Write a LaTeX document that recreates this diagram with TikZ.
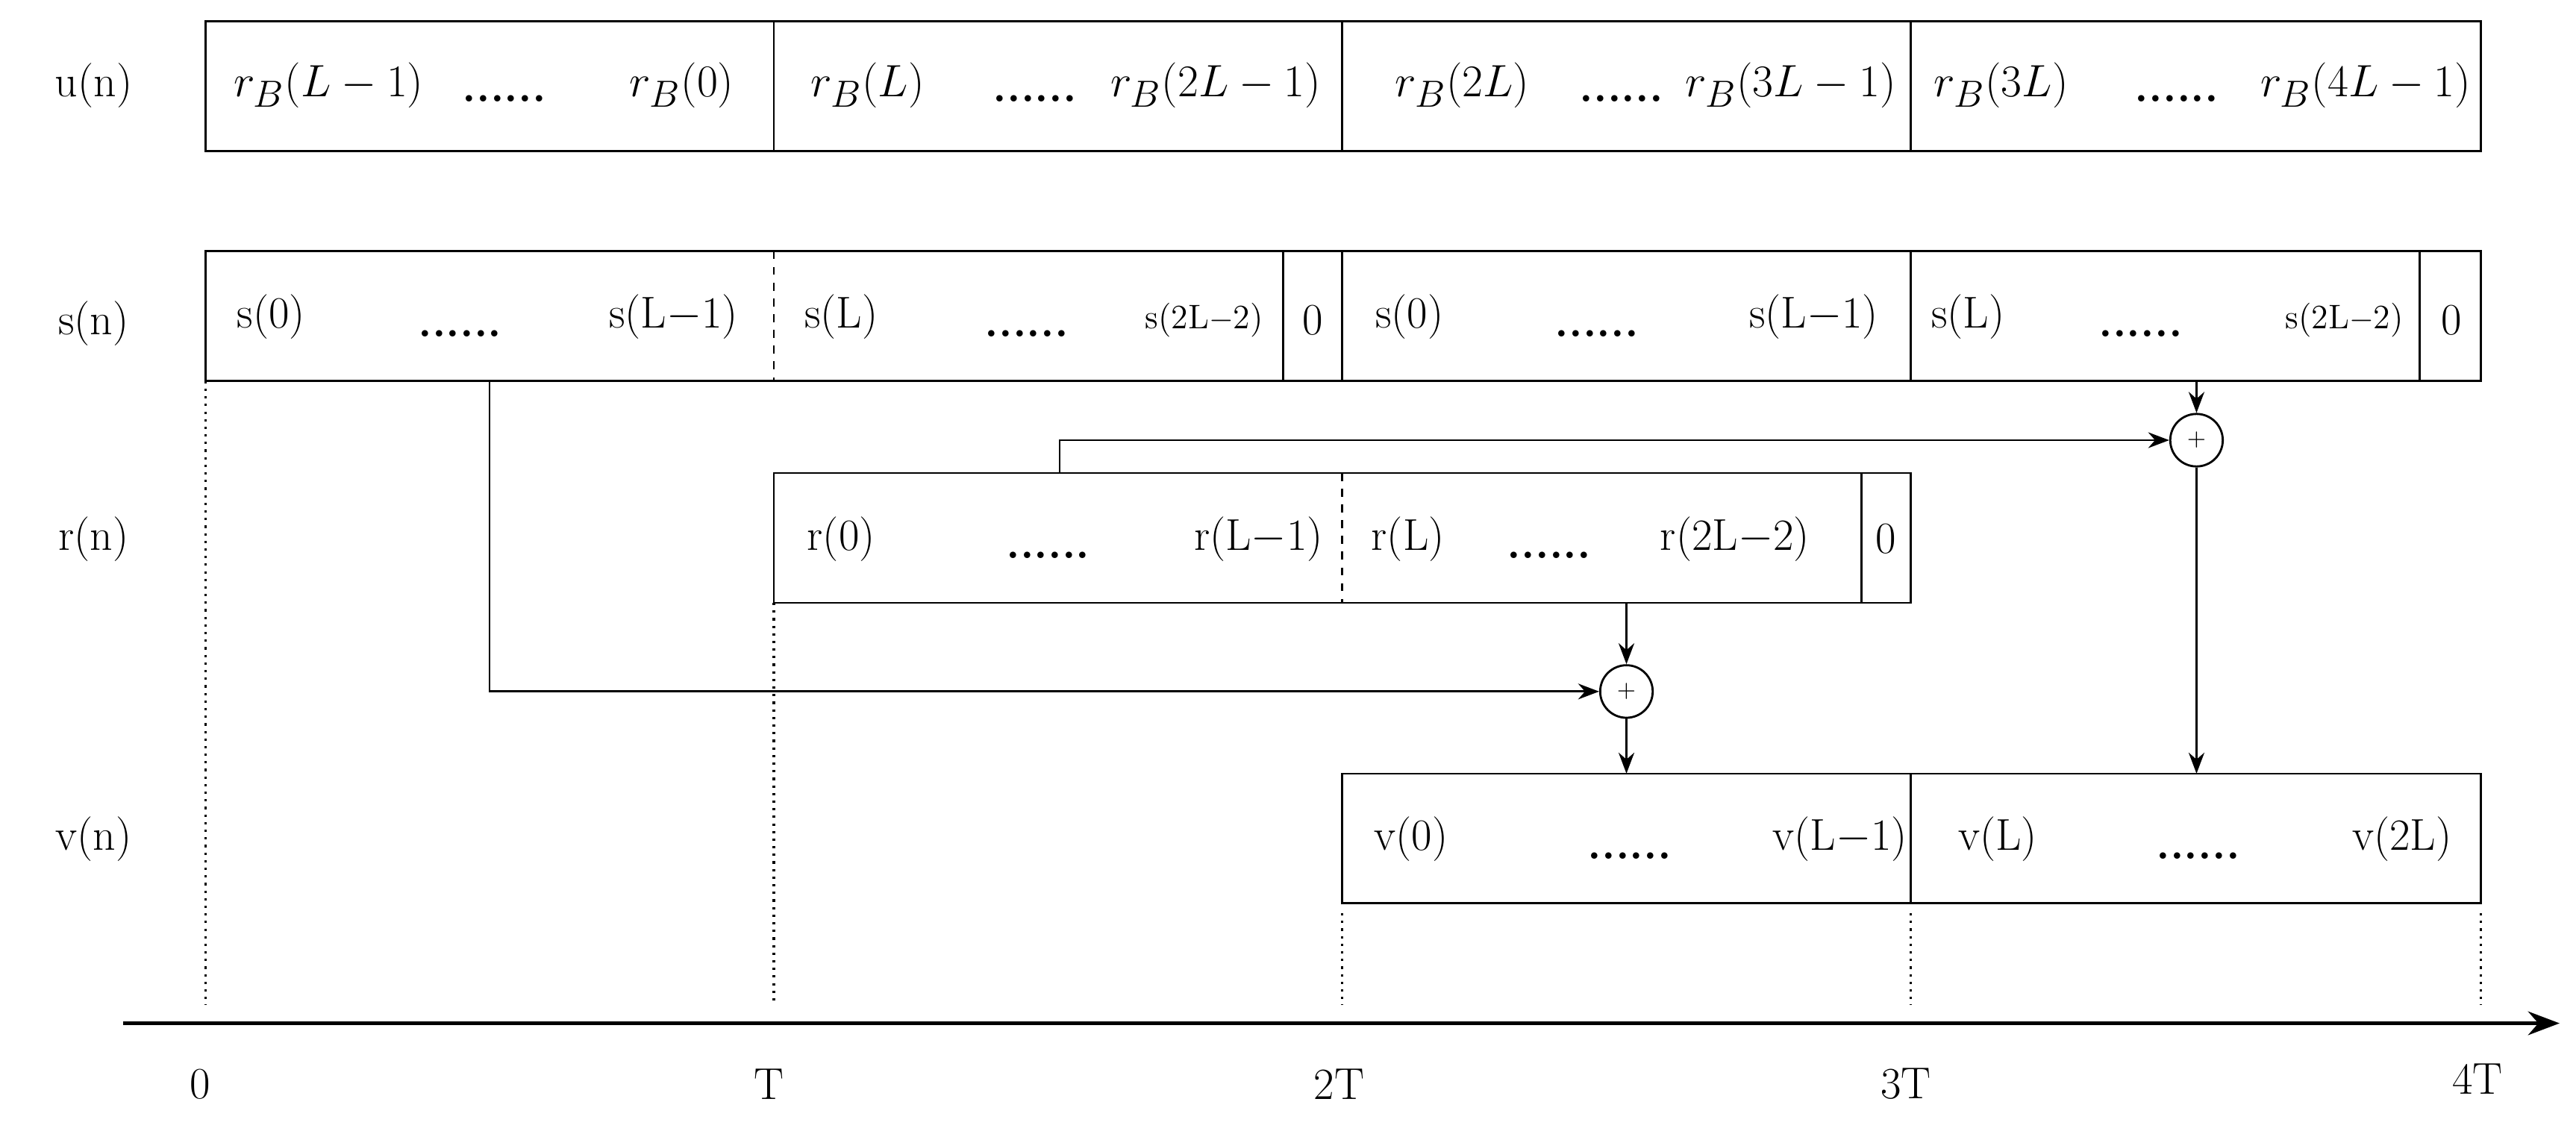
\documentclass[tikz,border=0pt]{standalone}
\usetikzlibrary{arrows.meta}
\begin{document}
\begin{tikzpicture}[x=0.022015cm,y=-0.022015cm,
  t/.style={font=\fontsize{17}{20}\selectfont,inner sep=0pt},
  ts/.style={font=\fontsize{13}{15}\selectfont,inner sep=0pt},
  m/.style={font=\fontsize{19}{22}\selectfont,inner sep=0pt},
  dd/.style={font=\fontsize{17}{20}\selectfont\bfseries,inner sep=0pt},
  bx/.style={draw,line width=0.8pt},
  ar/.style={-{Stealth[length=8pt,width=6pt]},line width=0.8pt},
  dot/.style={dotted,line width=0.9pt},
  pl/.style={draw,circle,minimum size=32*0.22cm/10,inner sep=0pt,line width=0.8pt,font=\fontsize{9}{10}\selectfont}]
\useasboundingbox (0,0) rectangle (1568,694);
% labels
\node[t] (lu) at (57,52) {u(n)};
\node[t] (ls) at (57,197) {s(n)};
\node[t] (lr) at (57,328) {r(n)};
\node[t] (lv) at (57,511) {v(n)};
% u row
\draw[bx] (125,13) rectangle (1510,92);
\foreach \x in {471,817,1163} \draw[line width=0.8pt] (\x,13)--(\x,92);
\node[m] at (200,52) {$r_B(L-1)$}; \node[dd] at (307,60) {......}; \node[m] at (415,52) {$r_B(0)$};
\node[m] at (528,52) {$r_B(L)$}; \node[dd] at (630,60) {......}; \node[m] at (740,52) {$r_B(2L-1)$};
\node[m] at (890,52) {$r_B(2L)$}; \node[dd] at (987,60) {......}; \node[m] at (1090,52) {$r_B(3L-1)$};
\node[m] at (1218,52) {$r_B(3L)$}; \node[dd] at (1325,60) {......}; \node[m] at (1440,52) {$r_B(4L-1)$};
% s row
\draw[bx] (125,153) rectangle (1510,232);
\draw[dashed,line width=0.8pt] (471,153)--(471,232);
\foreach \x in {781,817,1163,1473} \draw[line width=0.8pt] (\x,153)--(\x,232);
\node[t] at (165,193) {s(0)}; \node[dd] at (280,203) {......}; \node[t] at (410,193) {s(L$-$1)};
\node[t] at (512,193) {s(L)}; \node[dd] at (625,203) {......}; \node[ts] at (733,195) {s(2L$-$2)}; \node[t] at (799,195) {0};
\node[t] at (858,193) {s(0)}; \node[dd] at (972,203) {......}; \node[t] at (1104,193) {s(L$-$1)};
\node[t] at (1198,193) {s(L)}; \node[dd] at (1303,203) {......}; \node[ts] at (1427,195) {s(2L$-$2)}; \node[t] at (1492,195) {0};
% r row
\draw[bx] (471,288) rectangle (1163,367);
\draw[dashed,line width=0.8pt] (817,288)--(817,367);
\draw[line width=0.8pt] (1133,288)--(1133,367);
\node[t] at (512,328) {r(0)}; \node[dd] at (638,338) {......}; \node[t] at (766,328) {r(L$-$1)};
\node[t] at (857,328) {r(L)}; \node[dd] at (943,338) {......}; \node[t] at (1056,328) {r(2L$-$2)}; \node[t] at (1148,328) {0};
% v row
\draw[bx] (817,471) rectangle (1510,550);
\draw[line width=0.8pt] (1163,471)--(1163,550);
\node[t] at (859,511) {v(0)}; \node[dd] at (992,521) {......}; \node[t] at (1120,511) {v(L$-$1)};
\node[t] at (1216,511) {v(L)}; \node[dd] at (1338,521) {......}; \node[t] at (1462,511) {v(2L)};
% adders
\node[pl] (p1) at (1337,268) {+};
\node[pl] (p2) at (990,421) {+};
\coordinate (s1) at (1337,232); \coordinate (r1) at (645,288);
\coordinate (v1) at (1337,471); \coordinate (s2) at (298,232);
\coordinate (r2) at (990,367); \coordinate (v2) at (990,471);
\draw[ar] (s1)--(p1);
\draw[ar] (r1)|-(p1);
\draw[ar] (p1)--(v1);
\draw[ar] (s2)|-(p2);
\draw[ar] (r2)--(p2);
\draw[ar] (p2)--(v2);
% dotted guides
\draw[dot] (125,232)--(125,612);
\draw[dot] (471,367)--(471,612);
\foreach \x in {817,1163,1510} \draw[dot] (\x,556)--(\x,612);
% axis
\coordinate (a0) at (75,623); \coordinate (a1) at (1558,623);
\draw[-{Stealth[length=12pt,width=9pt]},line width=1.6pt] (a0)--(a1);
\node[t] (t0) at (122,660) {0};
\node[t] (t1) at (468,660) {T};
\node[t] (t2) at (815,660) {2T};
\node[t] (t3) at (1160,660) {3T};
\node[t] (t4) at (1508,657) {4T};
\end{tikzpicture}
\end{document}
